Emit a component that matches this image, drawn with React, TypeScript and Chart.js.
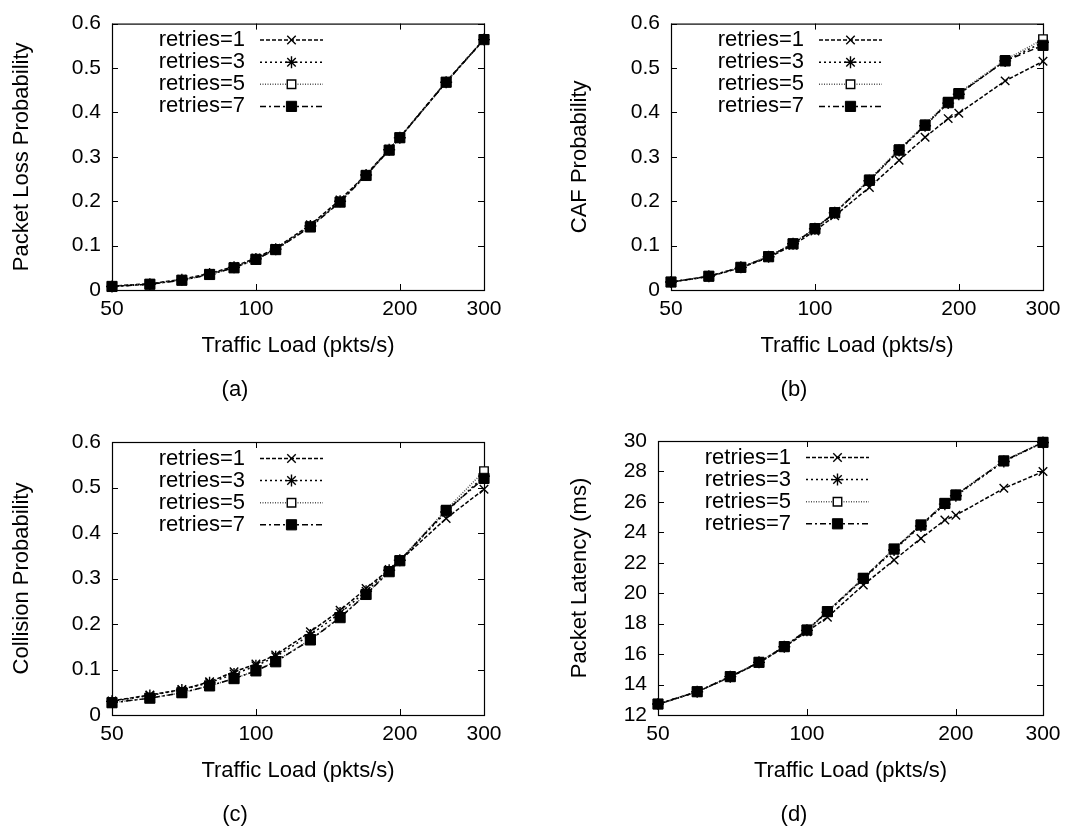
import React, { useEffect, useRef } from 'react';
import { Chart, registerables } from 'chart.js';
import { drawPoint } from 'chart.js/helpers';

Chart.register(...registerables);

// ---------- data ----------
const loads = [50, 60, 70, 80, 90, 100, 110, 130, 150, 170, 190, 200, 250, 300];
const xTickValues = [50, 100, 200, 300];
const probTicks = [0, 0.1, 0.2, 0.3, 0.4, 0.5, 0.6];
const latencyTicks = [12, 14, 16, 18, 20, 22, 24, 26, 28, 30];
const seriesLabels = ['retries=1', 'retries=3', 'retries=5', 'retries=7'];

// (a) Packet Loss Probability
const lossR1 = [0.009, 0.014, 0.024, 0.037, 0.053, 0.072, 0.094, 0.147, 0.203, 0.260, 0.317, 0.344, 0.469, 0.565];
const lossR3 = [0.008, 0.013, 0.023, 0.036, 0.051, 0.070, 0.092, 0.144, 0.200, 0.259, 0.316, 0.343, 0.468, 0.564];
const lossR5 = [0.008, 0.013, 0.022, 0.035, 0.050, 0.069, 0.091, 0.143, 0.199, 0.258, 0.315, 0.343, 0.468, 0.565];
const lossR7 = [0.008, 0.013, 0.022, 0.035, 0.050, 0.069, 0.091, 0.142, 0.198, 0.258, 0.315, 0.343, 0.468, 0.564];

// (b) CAF Probability
const cafR1 = [0.018, 0.030, 0.050, 0.073, 0.101, 0.133, 0.167, 0.231, 0.292, 0.344, 0.386, 0.398, 0.471, 0.515];
const cafR3 = [0.018, 0.031, 0.051, 0.075, 0.104, 0.138, 0.174, 0.246, 0.314, 0.370, 0.421, 0.441, 0.516, 0.558];
const cafR5 = [0.018, 0.031, 0.051, 0.076, 0.105, 0.139, 0.175, 0.249, 0.317, 0.373, 0.424, 0.444, 0.518, 0.565];
const cafR7 = [0.018, 0.031, 0.051, 0.075, 0.104, 0.138, 0.174, 0.247, 0.315, 0.371, 0.422, 0.442, 0.516, 0.551];

// (c) Collision Probability
const colR1 = [0.031, 0.044, 0.056, 0.073, 0.095, 0.112, 0.132, 0.183, 0.230, 0.278, 0.320, 0.339, 0.432, 0.496];
const colR3 = [0.030, 0.043, 0.055, 0.071, 0.090, 0.108, 0.128, 0.176, 0.224, 0.272, 0.318, 0.340, 0.446, 0.525];
const colR5 = [0.027, 0.037, 0.049, 0.064, 0.080, 0.097, 0.118, 0.166, 0.215, 0.266, 0.316, 0.340, 0.451, 0.536];
const colR7 = [0.027, 0.037, 0.049, 0.064, 0.080, 0.097, 0.117, 0.165, 0.214, 0.265, 0.315, 0.339, 0.449, 0.520];

// (d) Packet Latency (ms)
const latR1 = [12.70, 13.52, 14.50, 15.43, 16.45, 17.47, 18.42, 20.54, 22.18, 23.60, 24.81, 25.12, 26.89, 27.99];
const latR3 = [12.72, 13.53, 14.52, 15.46, 16.48, 17.56, 18.75, 20.92, 22.84, 24.42, 25.85, 26.40, 28.65, 29.90];
const latR5 = [12.72, 13.53, 14.52, 15.47, 16.50, 17.60, 18.80, 21.00, 22.92, 24.50, 25.92, 26.47, 28.70, 29.93];
const latR7 = [12.72, 13.53, 14.52, 15.46, 16.49, 17.58, 18.79, 20.98, 22.90, 24.48, 25.90, 26.45, 28.69, 29.91];

// ---------- styles ----------
const FONT = '"Liberation Sans", Arial, Helvetica, sans-serif';
const seriesStyles = [
  { dash: [4, 2], color: '#000', pointStyle: 'crossRot', radius: 6, fill: '#000', pbw: 1.4 },
  { dash: [2, 3], color: '#000', pointStyle: 'star', radius: 6, fill: '#000', pbw: 1.4 },
  { dash: [1, 1.5], color: '#555', pointStyle: 'rect', radius: 6, fill: '#fff', pbw: 1.4 },
  { dash: [6, 3, 2, 3], color: '#000', pointStyle: 'rect', radius: 7.2, fill: '#000', pbw: 1 },
];

type Box = { x: number; y: number; w: number; h: number };
type Area = { l: number; r: number; t: number; b: number };
type PanelCfg = {
  canvas: Box;
  area: Area;
  yTitle: string;
  yTitleX: number;
  yTicks: number[];
  series: number[][];
  caption: string;
  captionX: number;
};

const panels: PanelCfg[] = [
  { canvas: { x: 0, y: 0, w: 535, h: 412 }, area: { l: 112, r: 484, t: 15, b: 290 }, yTitle: 'Packet Loss Probability', yTitleX: 22, yTicks: probTicks, series: [lossR1, lossR3, lossR5, lossR7], caption: '(a)', captionX: 235 },
  { canvas: { x: 535, y: 0, w: 534, h: 412 }, area: { l: 671, r: 1043, t: 15, b: 290 }, yTitle: 'CAF Probability', yTitleX: 580, yTicks: probTicks, series: [cafR1, cafR3, cafR5, cafR7], caption: '(b)', captionX: 794 },
  { canvas: { x: 0, y: 412, w: 535, h: 415 }, area: { l: 112, r: 484, t: 442, b: 715 }, yTitle: 'Collision Probability', yTitleX: 22, yTicks: probTicks, series: [colR1, colR3, colR5, colR7], caption: '(c)', captionX: 235 },
  { canvas: { x: 535, y: 412, w: 534, h: 415 }, area: { l: 658, r: 1043, t: 441, b: 715 }, yTitle: 'Packet Latency (ms)', yTitleX: 580, yTicks: latencyTicks, series: [latR1, latR3, latR5, latR7], caption: '(d)', captionX: 794 },
];

function makeDecor(cfg: PanelCfg) {
  const ox = cfg.canvas.x;
  return {
    id: 'decor',
    beforeDatasetsDraw(chart: any) {
      const { ctx, chartArea: a } = chart;
      const xs = chart.scales.x;
      const ys = chart.scales.y;
      ctx.save();
      ctx.strokeStyle = '#000';
      ctx.lineWidth = 1.2;
      ctx.setLineDash([]);
      ctx.strokeRect(a.left + 0.5, a.top + 0.5, a.right - a.left, a.bottom - a.top);
      ctx.beginPath();
      ctx.lineWidth = 1;
      const tl = 6;
      for (const v of xTickValues) {
        const px = Math.round(xs.getPixelForValue(v)) + 0.5;
        ctx.moveTo(px, a.bottom);
        ctx.lineTo(px, a.bottom - tl);
        ctx.moveTo(px, a.top);
        ctx.lineTo(px, a.top + tl);
      }
      for (const v of cfg.yTicks) {
        const py = Math.round(ys.getPixelForValue(v)) + 0.5;
        ctx.moveTo(a.left, py);
        ctx.lineTo(a.left + tl, py);
        ctx.moveTo(a.right, py);
        ctx.lineTo(a.right - tl, py);
      }
      ctx.stroke();
      ctx.restore();
    },
    afterDraw(chart: any) {
      const { ctx, chartArea: a } = chart;
      ctx.save();
      // legend (gnuplot style key: text right aligned, sample on the right)
      ctx.font = `22px ${FONT}`;
      ctx.fillStyle = '#000';
      ctx.textAlign = 'right';
      ctx.textBaseline = 'middle';
      chart.data.datasets.forEach((ds: any, i: number) => {
        const rowY = a.top + 16.5 + i * 22.1;
        ctx.fillText(ds.label, a.left + 133, rowY);
        ctx.beginPath();
        ctx.setLineDash(ds.borderDash);
        ctx.lineWidth = ds.borderWidth;
        ctx.strokeStyle = ds.borderColor;
        ctx.moveTo(a.left + 148, rowY);
        ctx.lineTo(a.left + 211, rowY);
        ctx.stroke();
        ctx.setLineDash([]);
        ctx.strokeStyle = '#000';
        ctx.lineWidth = ds.pointBorderWidth;
        ctx.fillStyle = ds.pointBackgroundColor;
        drawPoint(ctx, { pointStyle: ds.pointStyle, radius: ds.pointRadius, rotation: 0, borderWidth: ds.pointBorderWidth } as any, a.left + 179.5, rowY);
        ctx.fillStyle = '#000';
      });
      // axis titles and caption
      ctx.font = `22px ${FONT}`;
      ctx.textAlign = 'center';
      ctx.textBaseline = 'middle';
      ctx.fillText('Traffic Load (pkts/s)', (a.left + a.right) / 2, a.bottom + 56);
      ctx.fillText(cfg.caption, cfg.captionX - ox, a.bottom + 100);
      ctx.save();
      ctx.translate(cfg.yTitleX - ox, (a.top + a.bottom) / 2);
      ctx.rotate(-Math.PI / 2);
      ctx.fillText(cfg.yTitle, 0, 0);
      ctx.restore();
      ctx.restore();
    },
  };
}

function Panel({ cfg }: { cfg: PanelCfg }) {
  const ref = useRef<HTMLCanvasElement>(null);
  useEffect(() => {
    const { canvas: c, area } = cfg;
    const yWidth = area.l - c.x;
    const xHeight = c.y + c.h - area.b;
    const chart = new Chart(ref.current as HTMLCanvasElement, {
      type: 'line',
      data: {
        labels: loads,
        datasets: cfg.series.map((vals, i) => {
          const s = seriesStyles[i];
          return {
            label: seriesLabels[i],
            data: loads.map((x, j) => ({ x, y: vals[j] })),
            borderColor: s.color,
            borderWidth: 1.5,
            borderDash: s.dash,
            pointStyle: s.pointStyle,
            pointRadius: s.radius,
            pointBackgroundColor: s.fill,
            pointBorderColor: '#000',
            pointBorderWidth: s.pbw,
            fill: false,
            tension: 0,
            clip: false,
            order: 3 - i,
          } as any;
        }),
      },
      options: {
        animation: false,
        responsive: false,
        devicePixelRatio: 1,
        events: [],
        layout: { padding: { left: 0, top: area.t - c.y, right: c.x + c.w - area.r, bottom: 0 } },
        plugins: { legend: { display: false }, tooltip: { enabled: false }, title: { display: false } },
        scales: {
          x: {
            type: 'logarithmic',
            min: 50,
            max: 300,
            grid: { display: false, drawTicks: false },
            border: { display: false },
            afterBuildTicks: (s: any) => { s.ticks = xTickValues.map((v) => ({ value: v })); },
            afterFit: (s: any) => { s.height = xHeight; },
            ticks: {
              autoSkip: false,
              maxRotation: 0,
              padding: 7,
              color: '#000',
              font: { family: FONT, size: 21 },
              callback: (v: any) => String(v),
            },
          },
          y: {
            type: 'linear',
            min: cfg.yTicks[0],
            max: cfg.yTicks[cfg.yTicks.length - 1],
            grid: { display: false, drawTicks: false },
            border: { display: false },
            afterBuildTicks: (s: any) => { s.ticks = cfg.yTicks.map((v) => ({ value: v })); },
            afterFit: (s: any) => { s.width = yWidth; },
            ticks: {
              padding: 11,
              color: '#000',
              font: { family: FONT, size: 21 },
              callback: (v: any) => String(v),
            },
          },
        },
      } as any,
      plugins: [makeDecor(cfg)],
    });
    return () => chart.destroy();
  }, [cfg]);
  return (
    <canvas
      ref={ref}
      width={cfg.canvas.w}
      height={cfg.canvas.h}
      style={{ position: 'absolute', left: cfg.canvas.x, top: cfg.canvas.y, width: cfg.canvas.w, height: cfg.canvas.h }}
    />
  );
}

export default function App() {
  return (
    <div style={{ position: 'absolute', left: 0, top: 0, width: 1069, height: 827, background: '#fff' }}>
      {panels.map((p) => (
        <Panel key={p.caption} cfg={p} />
      ))}
    </div>
  );
}
